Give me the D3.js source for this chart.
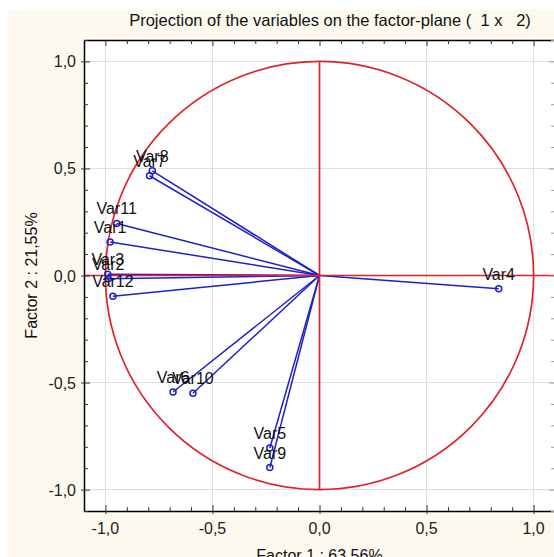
<!DOCTYPE html>
<html>
<head>
<meta charset="utf-8">
<script src="https://cdn.jsdelivr.net/npm/d3@7"></script>
<style>
  body { margin: 0; background: #fff; }
  svg { display: block; font-family: "Liberation Sans", Arial, sans-serif; }
</style>
</head>
<body>
<svg id="chart" width="554" height="557"></svg>
<script>
// variable coordinates on factor 1 / factor 2
var varNames = ["Var1","Var2","Var3","Var4","Var5","Var6","Var7","Var8","Var9","Var10","Var11","Var12"];
var factor1 = [-0.978, -0.987, -0.989, 0.837, -0.232, -0.684, -0.794, -0.781, -0.232, -0.591, -0.947, -0.965];
var factor2 = [0.157, -0.015, 0.006, -0.062, -0.806, -0.544, 0.466, 0.489, -0.897, -0.550, 0.243, -0.097];
var majorTicks = [-1.0, -0.5, 0.0, 0.5, 1.0];
var chartTitle = "Projection of the variables on the factor-plane (  1 x   2)";
var xTitle = "Factor 1 : 63,56%";
var yTitle = "Factor 2 : 21,55%";

var svg = d3.select("#chart");
var margin = {left: 84, top: 40};
var size = 471;

var fmt = function (d) { return d3.format(".1f")(d).replace(".", ",").replace("\u2212", "-"); };

var x = d3.scaleLinear().domain([-1.1, 1.1]).range([margin.left, margin.left + size]);
var y = d3.scaleLinear().domain([-1.1, 1.1]).range([margin.top + size, margin.top]);

var minorTicks = d3.range(-11, 12).map(function (i) { return i / 10; });

// cream background
svg.append("rect").attr("x", 8).attr("y", 10).attr("width", 554).attr("height", 557).attr("fill", "#fdf9ef");
svg.append("rect").attr("x", x(-1.1)).attr("y", y(1.1)).attr("width", size).attr("height", size).attr("fill", "#fff");

// grid
var grid = svg.append("g").attr("stroke", "#dedede").attr("stroke-width", 1);
majorTicks.filter(function (d) { return d !== 0; }).forEach(function (d) {
    grid.append("line").attr("x1", x(d)).attr("x2", x(d)).attr("y1", y(1.1)).attr("y2", y(-1.1));
    grid.append("line").attr("x1", x(-1.1)).attr("x2", x(1.1)).attr("y1", y(d)).attr("y2", y(d));
});

// vectors
var data = varNames.map(function (n, i) { return {name: n, f1: factor1[i], f2: factor2[i]}; });
var blue = "#2020c8";
svg.append("g").selectAll("line").data(data).enter().append("line")
    .attr("x1", x(0)).attr("y1", y(0))
    .attr("x2", function (d) { return x(d.f1); })
    .attr("y2", function (d) { return y(d.f2); })
    .attr("stroke", blue).attr("stroke-width", 1.5);

// unit circle and red axes
var red = "#e0232b";
svg.append("circle").attr("cx", x(0)).attr("cy", y(0)).attr("r", x(1) - x(0))
    .attr("fill", "none").attr("stroke", red).attr("stroke-width", 1.7);
svg.append("line").attr("x1", x(0)).attr("x2", x(0)).attr("y1", y(1)).attr("y2", y(-1))
    .attr("stroke", red).attr("stroke-width", 1.7);
svg.append("line").attr("x1", x(-1.1)).attr("x2", x(1.1)).attr("y1", y(0)).attr("y2", y(0))
    .attr("stroke", red).attr("stroke-width", 1.7);

// markers and labels
svg.append("g").selectAll("circle").data(data).enter().append("circle")
    .attr("cx", function (d) { return x(d.f1); })
    .attr("cy", function (d) { return y(d.f2); })
    .attr("r", 3).attr("fill", "none").attr("stroke", blue).attr("stroke-width", 1.5);
svg.append("g").selectAll("text").data(data).enter().append("text")
    .attr("x", function (d) { return x(d.f1); })
    .attr("y", function (d) { return y(d.f2) - 9; })
    .attr("text-anchor", "middle").attr("font-size", 16).attr("fill", "#111")
    .text(function (d) { return d.name; });

// frame axes
function tickLen(d, major, minor) {
    return Math.abs(Math.round(d * 10) % 5) === 0 ? major : minor;
}
function frame(axis) {
    return axis.tickValues(minorTicks).tickFormat("").tickSizeInner(0).tickSizeOuter(0);
}
var gB = svg.append("g").attr("transform", "translate(0," + y(-1.1) + ")").call(frame(d3.axisBottom(x)));
var gT = svg.append("g").attr("transform", "translate(0," + y(1.1) + ")").call(frame(d3.axisTop(x)));
var gL = svg.append("g").attr("transform", "translate(" + x(-1.1) + ",0)").call(frame(d3.axisLeft(y)));
var gR = svg.append("g").attr("transform", "translate(" + x(1.1) + ",0)").call(frame(d3.axisRight(y)));

[gB, gT, gL, gR].forEach(function (g) {
    g.select(".domain").attr("stroke", "#000").attr("stroke-width", 1.5);
});
gB.selectAll(".tick line").attr("stroke", "#333").attr("y1", function (d) { return tickLen(d, 3, 0); }).attr("y2", function (d) { return -tickLen(d, 6, 4); });
gT.selectAll(".tick line").attr("stroke", "#333").attr("y1", 0).attr("y2", function (d) { return tickLen(d, 6, 4); });
gL.selectAll(".tick line").attr("stroke", "#333").attr("x1", function (d) { return -tickLen(d, 3, 0); }).attr("x2", function (d) { return tickLen(d, 6, 4); });
gR.selectAll(".tick line").attr("stroke", "#999").attr("x1", 0).attr("x2", function (d) { return -tickLen(d, 6, 4); });

// tick labels
svg.append("g").selectAll("text").data(majorTicks).enter().append("text")
    .attr("x", function (d) { return x(d); }).attr("y", y(-1.1) + 23)
    .attr("text-anchor", "middle").attr("font-size", 16).attr("fill", "#222")
    .text(fmt);
svg.append("g").selectAll("text").data(majorTicks).enter().append("text")
    .attr("x", x(-1.1) - 8).attr("y", function (d) { return y(d) + 6; })
    .attr("text-anchor", "end").attr("font-size", 16).attr("fill", "#222")
    .text(fmt);

// titles
svg.append("text").attr("x", 330).attr("y", 26).attr("text-anchor", "middle")
    .style("white-space", "pre").attr("xml:space", "preserve")
    .attr("font-size", 16.5).attr("fill", "#111").text(chartTitle);
svg.append("text").attr("x", x(0)).attr("y", 561).attr("text-anchor", "middle")
    .attr("font-size", 16).attr("fill", "#111").text(xTitle);
svg.append("text").attr("transform", "translate(37," + y(0) + ") rotate(-90)")
    .attr("text-anchor", "middle").attr("font-size", 16).attr("fill", "#111").text(yTitle);
</script>
</body>
</html>
